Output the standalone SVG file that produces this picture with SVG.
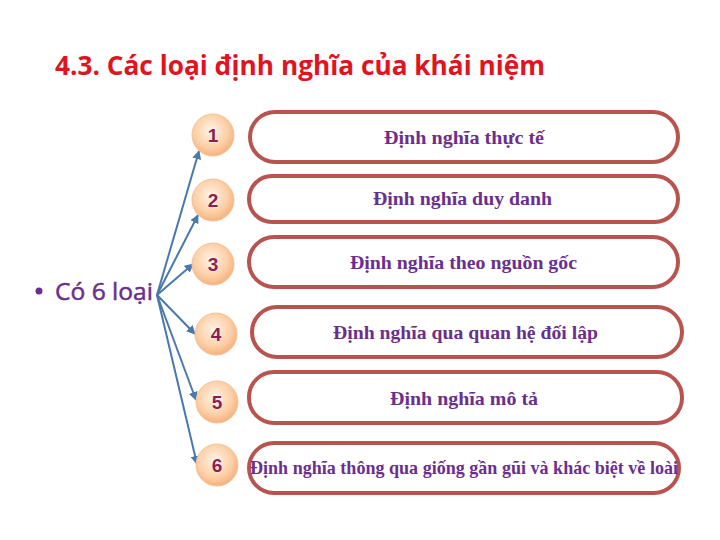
<svg xmlns="http://www.w3.org/2000/svg" width="720" height="540" viewBox="0 0 720 540">
<defs>
<radialGradient id="cg" cx="0.45" cy="0.4" r="0.65">
<stop offset="0" stop-color="#fff3e6"/>
<stop offset="0.6" stop-color="#fdd0a8"/>
<stop offset="1" stop-color="#f5aa72"/>
</radialGradient>
<marker id="ah" viewBox="0 0 10 10" refX="9" refY="5" markerWidth="4.5" markerHeight="4.5" orient="auto" markerUnits="strokeWidth">
<path d="M0,0 L10,5 L0,10 z" fill="#4a78ad"/>
</marker>
<style>
.pill{fill:#fff;stroke:#b85450;stroke-width:4}
.circ{fill:url(#cg);stroke:#f2c49a;stroke-width:1}
.num{font-family:"Liberation Sans",Arial,sans-serif;font-weight:bold;font-size:19px;fill:#8a1e50;text-anchor:middle;stroke:#ffffff;stroke-width:0.6;paint-order:stroke}
.lbl{font-family:"Liberation Serif","Times New Roman",serif;font-weight:bold;font-size:19px;fill:#6a2f8e;text-anchor:middle}
.conn{stroke:#4a78ad;stroke-width:2;fill:none;marker-end:url(#ah)}
</style>
</defs>
<rect width="720" height="540" fill="#ffffff"/>
<text x="55" y="75" font-family="'Open Sans','Liberation Sans',sans-serif" font-weight="bold" font-size="26" fill="#e0141e" textLength="490" lengthAdjust="spacingAndGlyphs">4.3. Các loại định nghĩa của khái niệm</text>
<g id="root">
<circle cx="39" cy="291" r="3.5" fill="#6a2f8e"/>
<text x="55" y="300" font-family="'Open Sans','Liberation Sans',sans-serif" font-size="24" fill="#6a2f8e" stroke="#6a2f8e" stroke-width="0.5" textLength="98" lengthAdjust="spacingAndGlyphs">Có 6 loại</text>
</g>
<g id="connectors">
<line class="conn" x1="157" y1="295" x2="199" y2="151"/>
<line class="conn" x1="157" y1="295" x2="198" y2="215"/>
<line class="conn" x1="157" y1="295" x2="193" y2="264"/>
<line class="conn" x1="157" y1="295" x2="195" y2="334"/>
<line class="conn" x1="157" y1="295" x2="196" y2="400"/>
<line class="conn" x1="157" y1="295" x2="197" y2="464"/>
</g>
<g id="node1">
<circle class="circ" cx="213" cy="135" r="21"/>
<text class="num" x="213" y="142">1</text>
<rect class="pill" x="250" y="112" width="428" height="50" rx="25"/>
<text class="lbl" x="464" y="144" textLength="160" lengthAdjust="spacingAndGlyphs">Định nghĩa thực tế</text>
</g>
<g id="node2">
<circle class="circ" cx="213" cy="200" r="21"/>
<text class="num" x="213" y="207">2</text>
<rect class="pill" x="249" y="176" width="429" height="46" rx="23"/>
<text class="lbl" x="462.5" y="205" textLength="179" lengthAdjust="spacingAndGlyphs">Định nghĩa duy danh</text>
</g>
<g id="node3">
<circle class="circ" cx="213" cy="264" r="21"/>
<text class="num" x="213" y="271">3</text>
<rect class="pill" x="249" y="237" width="429" height="50" rx="25"/>
<text class="lbl" x="463.5" y="269" textLength="227" lengthAdjust="spacingAndGlyphs">Định nghĩa theo nguồn gốc</text>
</g>
<g id="node4">
<circle class="circ" cx="216" cy="334" r="21"/>
<text class="num" x="216" y="341">4</text>
<rect class="pill" x="252" y="307" width="430" height="50" rx="25"/>
<text class="lbl" x="465.5" y="339" textLength="265" lengthAdjust="spacingAndGlyphs">Định nghĩa qua quan hệ đối lập</text>
</g>
<g id="node5">
<circle class="circ" cx="217" cy="402" r="21"/>
<text class="num" x="217" y="409">5</text>
<rect class="pill" x="249" y="372" width="433" height="51" rx="25"/>
<text class="lbl" x="464" y="405" textLength="148" lengthAdjust="spacingAndGlyphs">Định nghĩa mô tả</text>
</g>
<g id="node6">
<circle class="circ" cx="217" cy="465" r="21"/>
<text class="num" x="217" y="472">6</text>
<rect class="pill" x="249" y="443" width="430" height="50" rx="25"/>
<text class="lbl" x="464" y="474" textLength="428" lengthAdjust="spacingAndGlyphs">Định nghĩa thông qua giống gần gũi và khác biệt về loài</text>
</g>
</svg>
